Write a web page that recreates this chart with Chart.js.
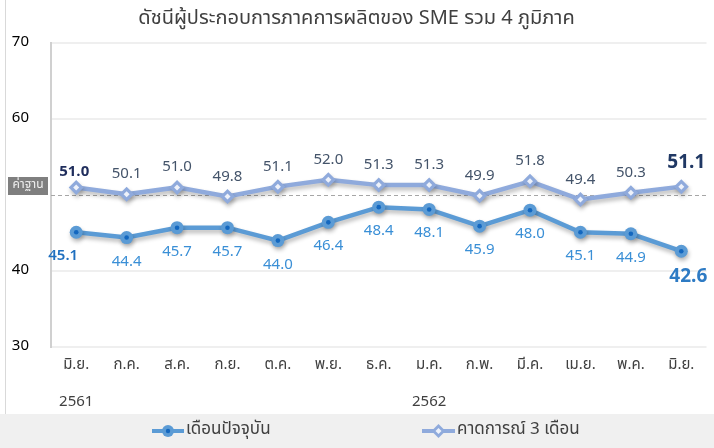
<!DOCTYPE html>
<html>
<head>
<meta charset="utf-8">
<script src="https://cdn.jsdelivr.net/npm/chart.js@4"></script>
<style>
  html, body { margin: 0; padding: 0; background: #fff; }
  #wrap { width: 714px; height: 448px; position: relative; }
</style>
</head>
<body>
<div id="wrap"><canvas id="smeChart" width="714" height="448"></canvas></div>
<script>
const FONT = '"Noto Sans Thai", "Leelawadee UI", Tahoma, "Noto Sans", "DejaVu Sans", sans-serif';

const meses = ['มิ.ย.', 'ก.ค.', 'ส.ค.', 'ก.ย.', 'ต.ค.', 'พ.ย.', 'ธ.ค.', 'ม.ค.', 'ก.พ.', 'มี.ค.', 'เม.ย.', 'พ.ค.', 'มิ.ย.'];
const anios = ['2561', '', '', '', '', '', '', '2562', '', '', '', '', ''];
const actual = [45.1, 44.4, 45.7, 45.7, 44.0, 46.4, 48.4, 48.1, 45.9, 48.0, 45.1, 44.9, 42.6];
const pronostico = [51.0, 50.1, 51.0, 49.8, 51.1, 52.0, 51.3, 51.3, 49.9, 51.8, 49.4, 50.3, 51.1];
const yTicks = [30, 40, 50, 60, 70];
const baseValor = 50;

const etiquetas = meses.map((m, i) => [m, anios[i]]);

const colActual = '#5b9bd5';
const colPron = '#8faadc';

// sombras bajo las lineas (solo las series)
const sombraPlugin = {
  id: 'sombra',
  beforeDatasetDraw(chart) {
    const ctx = chart.ctx;
    ctx.save();
    ctx.shadowColor = 'rgba(0,0,0,0.28)';
    ctx.shadowBlur = 4;
    ctx.shadowOffsetX = 1;
    ctx.shadowOffsetY = 3;
  },
  afterDatasetDraw(chart) {
    chart.ctx.restore();
  }
};

// linea base, etiquetas de valores, leyenda
const extrasPlugin = {
  id: 'extras',
  beforeDraw(chart) {
    const ctx = chart.ctx;
    ctx.save();
    ctx.fillStyle = '#f0f0f0';
    ctx.fillRect(0, 414, chart.width, chart.height - 414);
    ctx.strokeStyle = '#d9d9d9';
    ctx.lineWidth = 1;
    ctx.beginPath();
    ctx.moveTo(5.5, 0);
    ctx.lineTo(5.5, 414);
    ctx.stroke();
    ctx.restore();
  },
  beforeDatasetsDraw(chart) {
    const ctx = chart.ctx;
    const area = chart.chartArea;
    const y = chart.scales.y.getPixelForValue(baseValor);
    ctx.save();
    ctx.strokeStyle = '#a6a6a6';
    ctx.lineWidth = 1;
    ctx.setLineDash([4, 3]);
    ctx.beginPath();
    ctx.moveTo(area.left, Math.round(y) + 0.5);
    ctx.lineTo(area.right, Math.round(y) + 0.5);
    ctx.stroke();
    ctx.setLineDash([]);
    ctx.fillStyle = '#7f7f7f';
    ctx.fillRect(8, y - 18, 40, 18);
    ctx.fillStyle = '#f2f2f2';
    ctx.font = '12px ' + FONT;
    ctx.textAlign = 'center';
    ctx.textBaseline = 'middle';
    ctx.fillText('ค่าฐาน', 28, y - 9);
    ctx.restore();
  },
  afterDatasetsDraw(chart) {
    const ctx = chart.ctx;
    const mA = chart.getDatasetMeta(0).data;
    const mP = chart.getDatasetMeta(1).data;
    const n = actual.length;
    ctx.save();
    // puntos interiores
    mA.forEach(p => {
      ctx.fillStyle = '#1367bf';
      ctx.beginPath();
      ctx.arc(p.x, p.y, 2.3, 0, Math.PI * 2);
      ctx.fill();
    });
    mP.forEach(p => {
      ctx.fillStyle = '#eef2fa';
      ctx.beginPath();
      ctx.moveTo(p.x, p.y - 3);
      ctx.lineTo(p.x + 3, p.y);
      ctx.lineTo(p.x, p.y + 3);
      ctx.lineTo(p.x - 3, p.y);
      ctx.closePath();
      ctx.fill();
    });
    ctx.textAlign = 'center';
    ctx.textBaseline = 'middle';
    actual.forEach((v, i) => {
      const p = mA[i];
      let x = p.x, font = '15px ' + FONT, color = '#3a8fd6', off = 25;
      if (i === 0) { x -= 13; color = '#1f6fbf'; font = '600 15px ' + FONT; }
      if (i === n - 1) { x += 7; color = '#2e7bc4'; font = 'bold 19px ' + FONT; off = 27; }
      ctx.font = font;
      ctx.fillStyle = color;
      ctx.fillText(v.toFixed(1), x, p.y + off);
    });
    pronostico.forEach((v, i) => {
      const p = mP[i];
      let x = p.x, font = '15px ' + FONT, color = '#44546a', off = -19;
      if (i === 0) { x -= 2; color = '#1f2d5c'; font = 'bold 15px ' + FONT; off = -14; }
      if (i === n - 1) { x += 5; color = '#203864'; font = 'bold 19px ' + FONT; off = -22; }
      ctx.font = font;
      ctx.fillStyle = color;
      ctx.fillText(v.toFixed(1), x, p.y + off);
    });
    ctx.restore();
  },
  afterDraw(chart) {
    const ctx = chart.ctx;
    const yL = 431;
    const items = [
      { x0: 152, x1: 184, text: 'เดือนปัจจุบัน', color: colActual, tipo: 'circle' },
      { x0: 422, x1: 455, text: 'คาดการณ์ 3 เดือน', color: colPron, tipo: 'diamond' }
    ];
    ctx.save();
    items.forEach(it => {
      const cx = (it.x0 + it.x1) / 2;
      ctx.strokeStyle = it.color;
      ctx.lineWidth = 4;
      ctx.beginPath();
      ctx.moveTo(it.x0, yL);
      ctx.lineTo(it.x1, yL);
      ctx.stroke();
      ctx.fillStyle = it.color;
      ctx.beginPath();
      if (it.tipo === 'circle') {
        ctx.arc(cx, yL, 6, 0, Math.PI * 2);
        ctx.fill();
        ctx.fillStyle = '#1367bf';
        ctx.beginPath();
        ctx.arc(cx, yL, 2.2, 0, Math.PI * 2);
        ctx.fill();
      } else {
        ctx.moveTo(cx, yL - 7); ctx.lineTo(cx + 7, yL); ctx.lineTo(cx, yL + 7); ctx.lineTo(cx - 7, yL);
        ctx.closePath();
        ctx.fill();
        ctx.fillStyle = '#eef2fa';
        ctx.beginPath();
        ctx.moveTo(cx, yL - 3); ctx.lineTo(cx + 3, yL); ctx.lineTo(cx, yL + 3); ctx.lineTo(cx - 3, yL);
        ctx.closePath();
        ctx.fill();
      }
      ctx.fillStyle = '#404040';
      ctx.font = '17px ' + FONT;
      ctx.textAlign = 'left';
      ctx.textBaseline = 'middle';
      ctx.fillText(it.text, it.x1 + 2, yL);
    });
    ctx.restore();
  }
};

const grafico = new Chart(document.getElementById('smeChart'), {
  type: 'line',
  data: {
    labels: etiquetas,
    datasets: [{
      label: 'เดือนปัจจุบัน',
      data: actual,
      borderColor: colActual,
      backgroundColor: colActual,
      borderWidth: 4.5,
      pointStyle: 'circle',
      pointRadius: 6.5,
      pointBorderWidth: 0,
      pointBackgroundColor: colActual,
      tension: 0
    }, {
      label: 'คาดการณ์ 3 เดือน',
      data: pronostico,
      borderColor: colPron,
      backgroundColor: colPron,
      borderWidth: 4.5,
      pointStyle: 'rectRot',
      pointRadius: 7.5,
      pointBorderWidth: 0,
      pointBackgroundColor: colPron,
      tension: 0
    }]
  },
  options: {
    responsive: false,
    animation: false,
    layout: { padding: { top: 0, right: 1, bottom: 34, left: 0 } },
    plugins: {
      legend: { display: false },
      tooltip: { enabled: false },
      title: {
        display: true,
        text: 'ดัชนีผู้ประกอบการภาคการผลิตของ SME รวม 4 ภูมิภาค',
        color: '#404040',
        font: { family: FONT, size: 20, weight: 'normal' },
        padding: { top: 8, bottom: 11 }
      }
    },
    scales: {
      x: {
        offset: true,
        grid: { display: false },
        border: { display: false },
        ticks: {
          color: '#404040',
          font: { family: FONT, size: 15, lineHeight: 2.5 },
          maxRotation: 0,
          autoSkip: false,
          padding: -8
        },
        afterFit(scale) { scale.height = 67; }
      },
      y: {
        min: 30,
        max: 70,
        afterBuildTicks(scale) { scale.ticks = yTicks.map(v => ({ value: v })); },
        grid: {
          drawTicks: false,
          lineWidth: 2,
          color: ctx => (ctx.tick && ctx.tick.value === baseValor) ? 'rgba(0,0,0,0)' : '#efefef'
        },
        border: { display: true, color: '#d0d0d0', width: 2 },
        ticks: {
          color: '#000',
          font: { family: FONT, size: 15 },
          padding: 22,
          callback: v => (v === baseValor ? '' : v)
        },
        afterFit(scale) { scale.width = 51; }
      }
    }
  },
  plugins: [extrasPlugin, sombraPlugin]
});
</script>
</body>
</html>
